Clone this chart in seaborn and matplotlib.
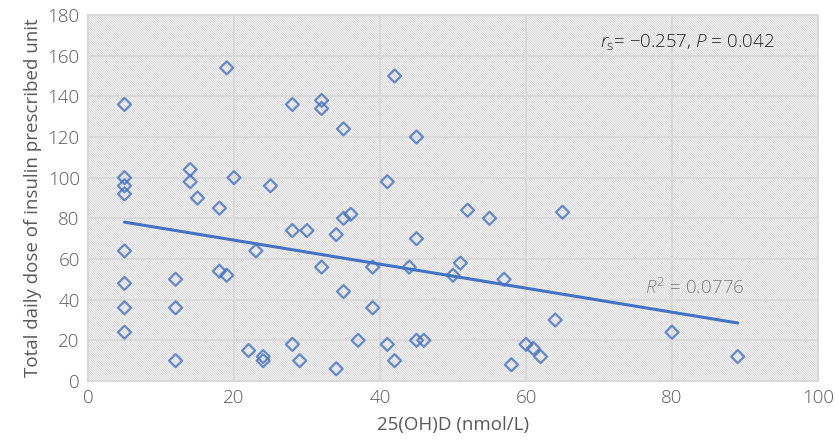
import numpy as np
import pandas as pd
import matplotlib
matplotlib.use("Agg")
import matplotlib.pyplot as plt
import seaborn as sns
from matplotlib.patches import Rectangle

vitd = [5, 5, 5, 5, 5, 5, 5, 5,
        12, 12, 12,
        14, 14, 15, 18, 18, 19, 19, 20,
        22, 23, 24, 24, 25,
        28, 28, 28, 29, 30,
        32, 32, 32, 34, 34, 35, 35, 35, 36, 37,
        39, 39, 41, 41, 42, 42, 44, 45, 45, 45, 46,
        50, 51, 52, 55, 57, 58, 60, 61, 62, 64, 65, 80, 89]
dose = [136, 100, 96, 92, 64, 48, 36, 24,
        50, 36, 10,
        104, 98, 90, 85, 54, 52, 154, 100,
        15, 64, 12, 10, 96,
        136, 74, 18, 10, 74,
        138, 134, 56, 72, 6, 124, 80, 44, 82, 20,
        56, 36, 98, 18, 150, 10, 56, 120, 70, 20, 20,
        52, 58, 84, 80, 50, 8, 18, 16, 12, 30, 83, 24, 12]
xticks = [0, 20, 40, 60, 80, 100]
yticks = [0, 20, 40, 60, 80, 100, 120, 140, 160, 180]
xlabel = "25(OH)D (nmol/L)"
ylabel = "Total daily dose of insulin prescribed unit"

df = pd.DataFrame({"x": vitd, "y": dose})

sns.set_theme(style="white")
plt.rcParams["font.family"] = ["Open Sans", "DejaVu Sans"]
plt.rcParams["font.weight"] = 300
plt.rcParams["mathtext.fontset"] = "custom"
plt.rcParams["mathtext.rm"] = "Open Sans:light"
plt.rcParams["mathtext.it"] = "Open Sans:italic:light"
plt.rcParams["hatch.linewidth"] = 0.7
plt.rcParams["hatch.color"] = "#d6d6d6"

grey = "#595959"
blue = "#4472C4"

fig = plt.figure(figsize=(8.35, 4.45), dpi=100)
ax = fig.add_axes([88 / 835, 1 - 381 / 445, (818 - 88) / 835, (381 - 15) / 445])

ax.add_patch(Rectangle((0, 0), 1, 1, transform=ax.transAxes, facecolor="white",
                       edgecolor="#d6d6d6", hatch="\\" * 14, lw=0, zorder=0))

sns.regplot(data=df, x="x", y="y", ax=ax, ci=None, truncate=True, marker="D",
            scatter_kws=dict(s=44, facecolors="none", edgecolors=blue,
                             linewidths=1.6, zorder=3),
            line_kws=dict(color=blue, lw=2.2, zorder=2))

ax.set_xlim(0, 100)
ax.set_ylim(0, 180)
ax.set_xticks(xticks)
ax.set_yticks(yticks)
ax.grid(True, color="#d9d9d9", lw=1.5, zorder=1)
ax.set_axisbelow(True)
for s in ax.spines.values():
    s.set_color("#d9d9d9")
    s.set_linewidth(1.5)
ax.tick_params(colors=grey, labelsize=13.5, length=0, pad=6)
ax.set_xlabel(xlabel, color=grey, fontsize=13.5, labelpad=6)
ax.set_ylabel(ylabel, color=grey, fontsize=13.5, labelpad=4)

ax.text(0.94, 0.925, "$\\mathit{r}_\\mathrm{s}$= \u22120.257, $\\mathit{P}$ = 0.042",
        transform=ax.transAxes, ha="right", va="center", fontsize=13.5, color="#262626")
ax.text(76.3, 46, "$\\mathit{R}^2$ = 0.0776", ha="left", va="center", fontsize=13.5, color="#7f7f7f")

fig.savefig("out.png", dpi=100)
